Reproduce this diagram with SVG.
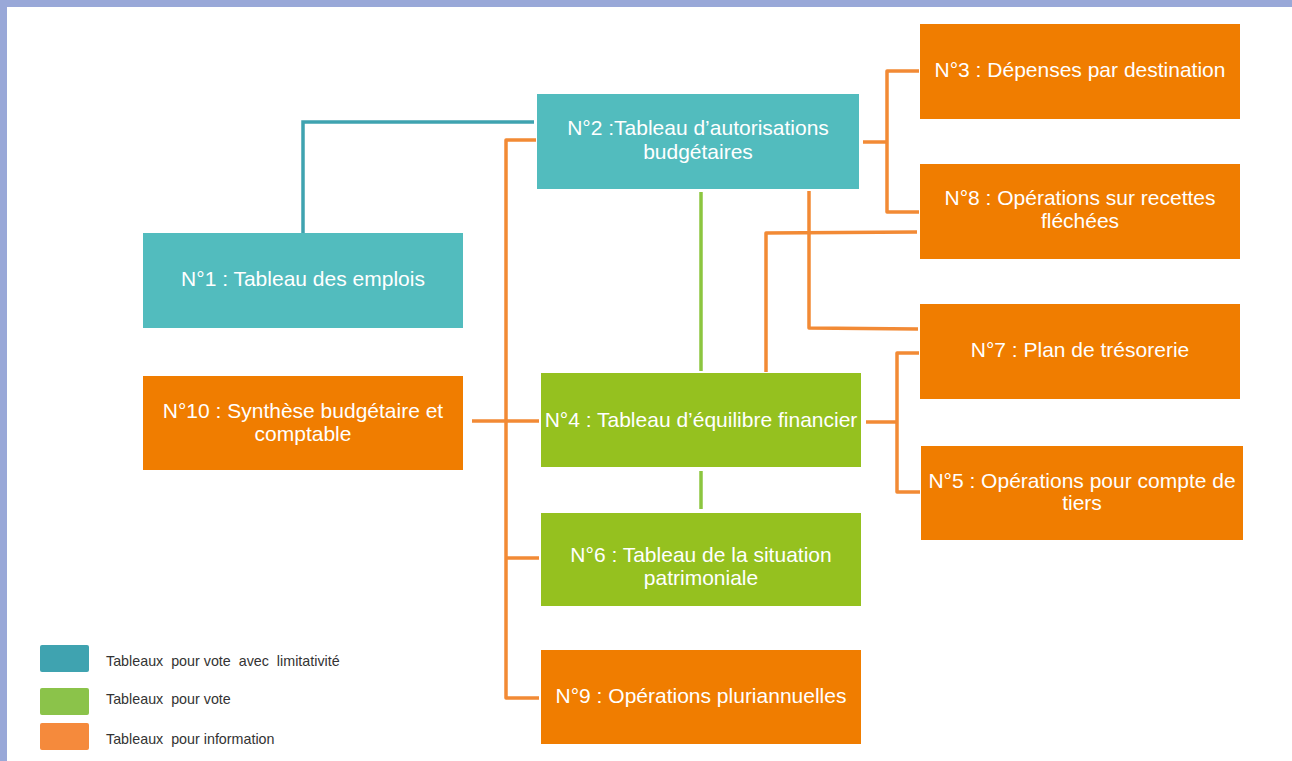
<svg xmlns="http://www.w3.org/2000/svg" width="1292" height="761" viewBox="0 0 1292 761">
<style>
.t{font-family:"Liberation Sans",Arial,sans-serif;font-size:21px;fill:#fff;text-anchor:middle}
.lg{font-family:"Liberation Sans",Arial,sans-serif;font-size:14.3px;fill:#333;white-space:pre}
.teal{fill:#52BCBE}
.green{fill:#95C11F}
.orange{fill:#F07D00}
.co{fill:none;stroke:#F28A35;stroke-width:3.5;stroke-linejoin:round}
.cg{fill:none;stroke:#8CC63F;stroke-width:3.5}
.ct{fill:none;stroke:#3FA3B0;stroke-width:3.5}
</style>
<rect x="0" y="0" width="1292" height="761" fill="#fff"/>
<rect x="0" y="0" width="1292" height="7" fill="#99A8D8"/>
<rect x="0" y="0" width="7" height="761" fill="#99A8D8"/>
<g id="connectors">
<polyline class="ct" points="534,122 303,122 303,233"/>
<polyline class="co" points="536,140 506,140 506,698 539,698"/>
<line class="co" x1="506" y1="421" x2="539" y2="421"/>
<line class="co" x1="506" y1="558" x2="539" y2="558"/>
<line class="co" x1="472" y1="421" x2="506" y2="421" stroke-width="4.5"/>
<line class="cg" x1="701" y1="192" x2="701" y2="371"/>
<line class="cg" x1="701" y1="471" x2="701" y2="509"/>
<line class="co" x1="863" y1="142" x2="887" y2="142"/>
<polyline class="co" points="919,71 887,71 887,212 919,212"/>
<polyline class="co" points="809,191 809,328 918,329"/>
<polyline class="co" points="917,232 766,233 766,372"/>
<line class="co" x1="866" y1="422" x2="897" y2="422"/>
<polyline class="co" points="919,353 897,353 897,492 920,492"/>
</g>
<g id="n2"><rect class="teal" x="537" y="94" width="322" height="95"/><text class="t" x="698" y="135">N°2 :Tableau d’autorisations</text><text class="t" x="698" y="159">budgétaires</text></g>
<g id="n1"><rect class="teal" x="143" y="233" width="320" height="95"/><text class="t" x="303" y="286">N°1 : Tableau des emplois</text></g>
<g id="n10"><rect class="orange" x="143" y="376" width="320" height="94"/><text class="t" x="303" y="418">N°10 : Synthèse budgétaire et</text><text class="t" x="303" y="441">comptable</text></g>
<g id="n4"><rect class="green" x="541" y="373" width="320" height="94"/><text class="t" x="701" y="427">N°4 : Tableau d’équilibre financier</text></g>
<g id="n6"><rect class="green" x="541" y="513" width="320" height="93"/><text class="t" x="701" y="562">N°6 : Tableau de la situation</text><text class="t" x="701" y="585">patrimoniale</text></g>
<g id="n9"><rect class="orange" x="541" y="650" width="320" height="94"/><text class="t" x="701" y="703">N°9 : Opérations pluriannuelles</text></g>
<g id="n3"><rect class="orange" x="920" y="24" width="320" height="95"/><text class="t" x="1080" y="77">N°3 : Dépenses par destination</text></g>
<g id="n8"><rect class="orange" x="920" y="164" width="320" height="95"/><text class="t" x="1080" y="205">N°8 : Opérations sur recettes</text><text class="t" x="1080" y="228">fléchées</text></g>
<g id="n7"><rect class="orange" x="920" y="304" width="320" height="95"/><text class="t" x="1080" y="357">N°7 : Plan de trésorerie</text></g>
<g id="n5"><rect class="orange" x="921" y="446" width="322" height="94"/><text class="t" x="1082" y="488">N°5 : Opérations pour compte de</text><text class="t" x="1082" y="510">tiers</text></g>
<g id="legend">
<rect x="40" y="645" width="49" height="27" rx="2" fill="#3FA3B0"/>
<rect x="40" y="688" width="49" height="27" rx="2" fill="#8BC34A"/>
<rect x="40" y="723" width="49" height="27" rx="2" fill="#F58A3C"/>
<text class="lg" x="106" y="666">Tableaux  pour vote  avec  limitativité</text>
<text class="lg" x="106" y="704">Tableaux  pour vote</text>
<text class="lg" x="106" y="744">Tableaux  pour information</text>
</g>
</svg>
